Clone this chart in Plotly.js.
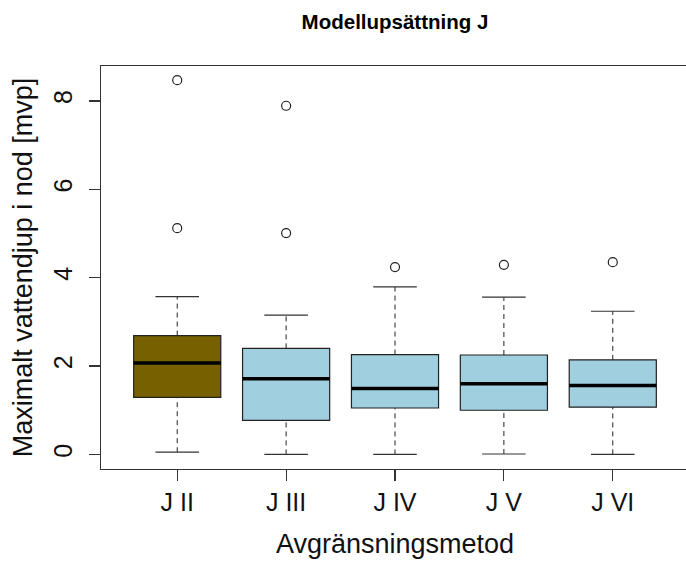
<!DOCTYPE html>
<html>
<head>
<meta charset="utf-8">
<script src="https://cdn.plot.ly/plotly-3.0.1.min.js"></script>
<style>
  html, body { margin: 0; padding: 0; overflow: hidden; background: #fff; }
  #chart { width: 690px; height: 562px; }
</style>
</head>
<body>
<div id="chart"></div>
<script>
// Five delineation methods for model setup J
const categories = ["J II", "J III", "J IV", "J V", "J VI"];
const lowerWhisker = [0.05, 0.00, 0.00, 0.01, 0.00];
const q1 = [1.29, 0.77, 1.05, 1.00, 1.07];
const median = [2.07, 1.71, 1.49, 1.60, 1.56];
const q3 = [2.69, 2.40, 2.26, 2.25, 2.14];
const upperWhisker = [3.57, 3.15, 3.79, 3.56, 3.24];
const outliers = [[8.47, 5.12], [7.89, 5.01], [4.24], [4.29], [4.35]];
const boxColors = ["#766000", "#a0cfe0", "#a0cfe0", "#a0cfe0", "#a0cfe0"];
const yTicks = [0, 2, 4, 6, 8];

const positions = categories.map((_, i) => i + 1);
const BOX_W = 0.8, CAP_W = 0.4;

const traces = [];

// Dashed whiskers from box edge to whisker end
const wx = [], wy = [];
positions.forEach((p, i) => {
  wx.push(p, p, null, p, p, null);
  wy.push(lowerWhisker[i], q1[i], null, q3[i], upperWhisker[i], null);
});
traces.push({
  type: "scatter", mode: "lines", x: wx, y: wy,
  line: { color: "#222", width: 1, dash: "5px,4px" },
  hoverinfo: "skip", showlegend: false
});

// Solid whisker caps
const cx = [], cy = [];
positions.forEach((p, i) => {
  cx.push(p - CAP_W / 2, p + CAP_W / 2, null, p - CAP_W / 2, p + CAP_W / 2, null);
  cy.push(lowerWhisker[i], lowerWhisker[i], null, upperWhisker[i], upperWhisker[i], null);
});
traces.push({
  type: "scatter", mode: "lines", x: cx, y: cy,
  line: { color: "#333", width: 1.2 },
  hoverinfo: "skip", showlegend: false
});

// Boxes (interquartile range)
positions.forEach((p, i) => {
  traces.push({
    type: "box", x: [p], q1: [q1[i]], median: [median[i]], q3: [q3[i]],
    lowerfence: [q1[i]], upperfence: [q3[i]],
    width: BOX_W, whiskerwidth: 0,
    fillcolor: boxColors[i], line: { color: "#222", width: 1.2 },
    name: categories[i], showlegend: false, hoverinfo: "skip"
  });
});

// Thick median lines
const mx = [], my = [];
positions.forEach((p, i) => {
  mx.push(p - BOX_W / 2, p + BOX_W / 2, null);
  my.push(median[i], median[i], null);
});
traces.push({
  type: "scatter", mode: "lines", x: mx, y: my,
  line: { color: "#000", width: 3.5 },
  hoverinfo: "skip", showlegend: false
});

// Outliers as open circles
const ox = [], oy = [];
positions.forEach((p, i) => outliers[i].forEach(v => { ox.push(p); oy.push(v); }));
traces.push({
  type: "scatter", mode: "markers", x: ox, y: oy,
  marker: { symbol: "circle-open", size: 9, color: "#222", line: { width: 1.2 } },
  hoverinfo: "skip", showlegend: false
});

const font = "Liberation Sans, Arial, Helvetica, sans-serif";

const layout = {
  width: 690, height: 562, autosize: false,
  margin: { l: 101, r: 1, t: 66, b: 93 },
  paper_bgcolor: "#fff", plot_bgcolor: "#fff",
  font: { family: font, color: "#111" },
  title: {
    text: "<b>Modellupsättning J</b>",
    font: { family: font, size: 20.5, color: "#000" },
    xref: "paper", x: 0.5, xanchor: "center",
    yref: "container", y: 1 - 22 / 562, yanchor: "middle"
  },
  xaxis: {
    range: [0.3, 5.7], tickmode: "array", tickvals: positions, ticktext: categories,
    showgrid: false, zeroline: false,
    showline: true, linecolor: "#333", linewidth: 1.2, mirror: true,
    ticks: "outside", ticklen: 11, tickcolor: "#333", tickwidth: 1.2,
    tickfont: { family: font, size: 25, color: "#111" },
    title: { text: "Avgränsningsmetod", font: { family: font, size: 27, color: "#111" }, standoff: 18 }
  },
  yaxis: {
    range: [-0.33, 8.79], tickmode: "array", tickvals: yTicks, ticktext: yTicks.map(String),
    showgrid: false, zeroline: false,
    showline: true, linecolor: "#333", linewidth: 1.2, mirror: true,
    ticks: "outside", ticklen: 11, tickcolor: "#333", tickwidth: 1.2,
    tickangle: -90, ticklabelstandoff: 7,
    tickfont: { family: font, size: 25, color: "#111" },
    title: { text: "Maximalt vattendjup i nod [mvp]", font: { family: font, size: 27, color: "#111" }, standoff: 8 }
  }
};

Plotly.newPlot("chart", traces, layout, { displayModeBar: false, staticPlot: true });
</script>
</body>
</html>
